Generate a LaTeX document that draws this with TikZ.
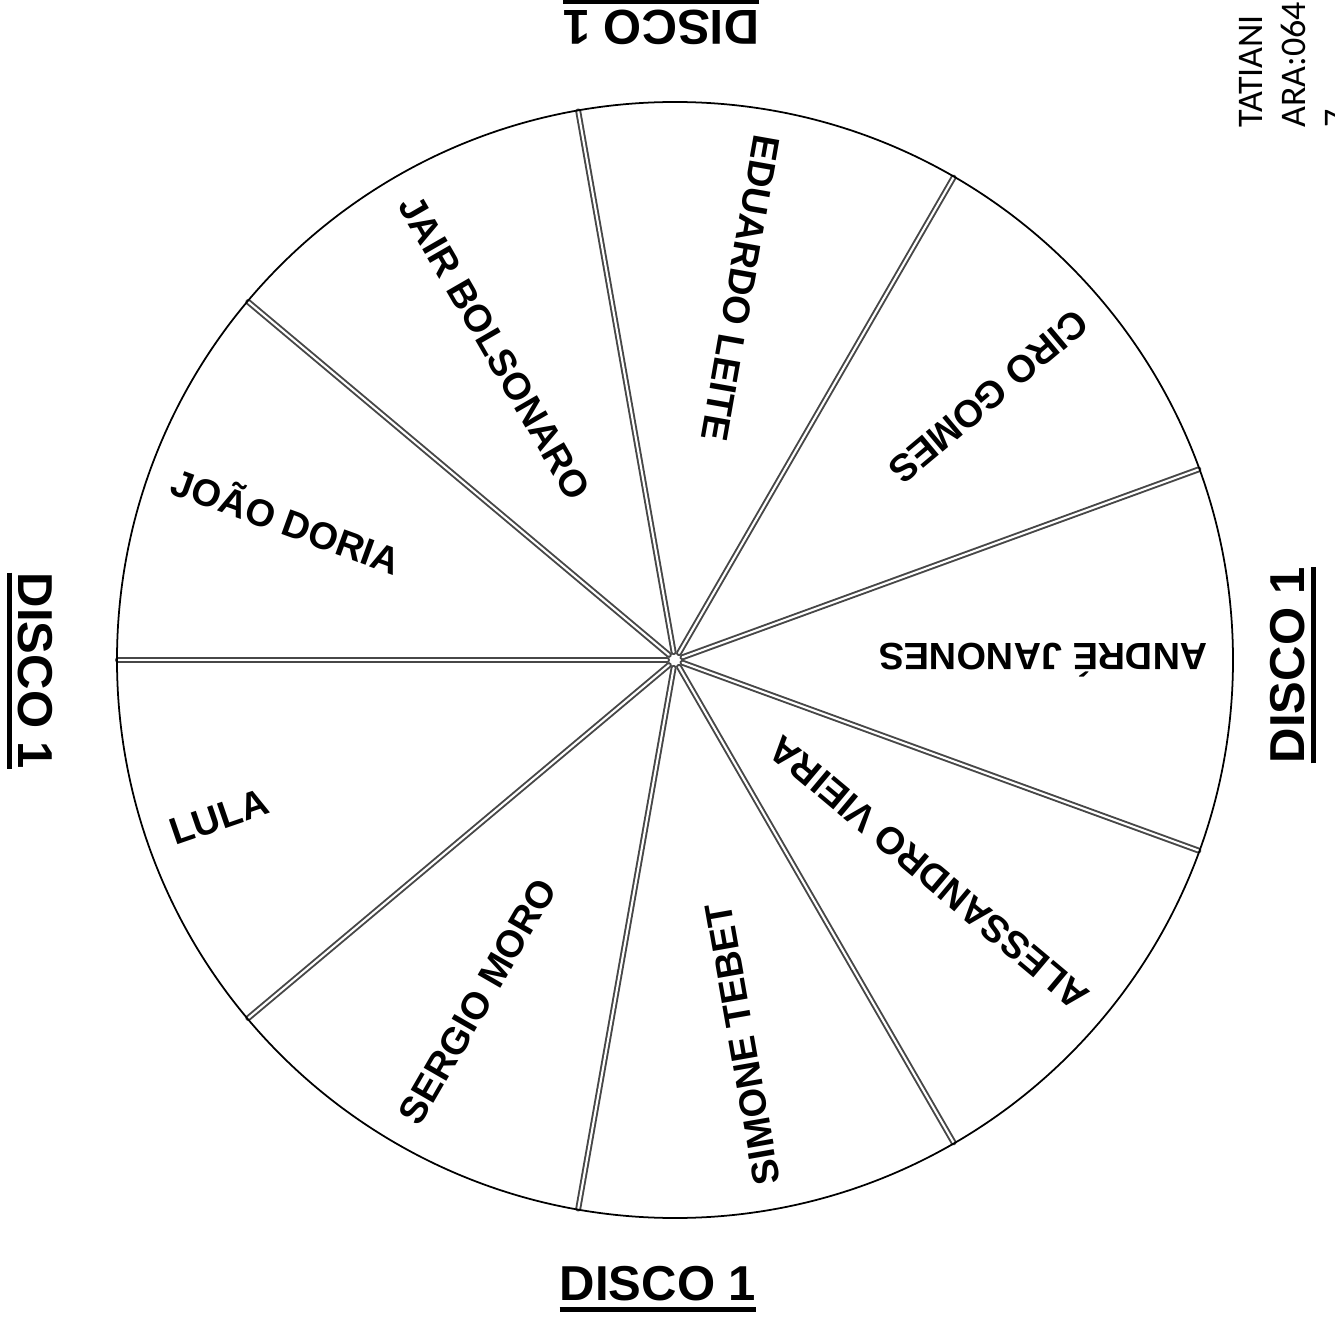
\documentclass[tikz,border=0pt]{standalone}
\usepackage{fontspec}
\setmainfont{Liberation Sans}
\newfontfamily\carlito{Carlito}
\begin{document}
\begin{tikzpicture}[x=.02cm,y=.02cm,line cap=round,line join=round,
  rim/.style={draw=black,line width=1pt},
  spoke/.style={draw=black!72,line width=1.1pt,double=white,double distance=1.2pt},
  cand/.style={anchor=west,inner sep=0pt,font=\bfseries\fontsize{21.6}{26}\selectfont},
  disco/.style={inner xsep=0pt,inner ysep=.15cm,font=\bfseries\fontsize{27.9}{32}\selectfont},
  bar/.style={line width=2.8pt,line cap=butt},
  tag/.style={rotate=90,anchor=base west,inner sep=0pt,font=\carlito\fontsize{20.5}{24}\selectfont}]
  \useasboundingbox (-675,-665) rectangle (660,660);
  \coordinate (o) at (0,0);
  \foreach \ang in {140,100,...,-180}
    \draw[spoke] (\ang:8) -- (\ang:557);
  \draw[rim] (o) circle (558);
  \foreach \ang/\who [count=\i] in {120/JAIR BOLSONARO,80/EDUARDO LEITE,40/CIRO GOMES,0/ANDRÉ JANONES,-40/ALESSANDRO VIEIRA,-80/SIMONE TEBET,-120/SERGIO MORO,-161/LULA,160/JOÃO DORIA}
    \node[cand,rotate=\ang+180] (cand\i) at (\ang:533) {\who};
  \node[disco] (discoS) at (-17,-624) {DISCO 1};
  \node[disco,rotate=180] (discoN) at (-14,633) {DISCO 1};
  \node[disco,rotate=90] (discoE) at (613,-5) {DISCO 1};
  \node[disco,rotate=-90] (discoW) at (-640,-11) {DISCO 1};
  \foreach \d in {S,N,E,W}
    \draw[bar] (disco\d.south west) -- (disco\d.south east);
  \node[tag] (tag1) at (587,532) {TATIANI};
  \node[tag] (tag2) at (630,532) {ARA:064};
  \node[tag] (tag3) at (673,532) {7};
\end{tikzpicture}
\end{document}
